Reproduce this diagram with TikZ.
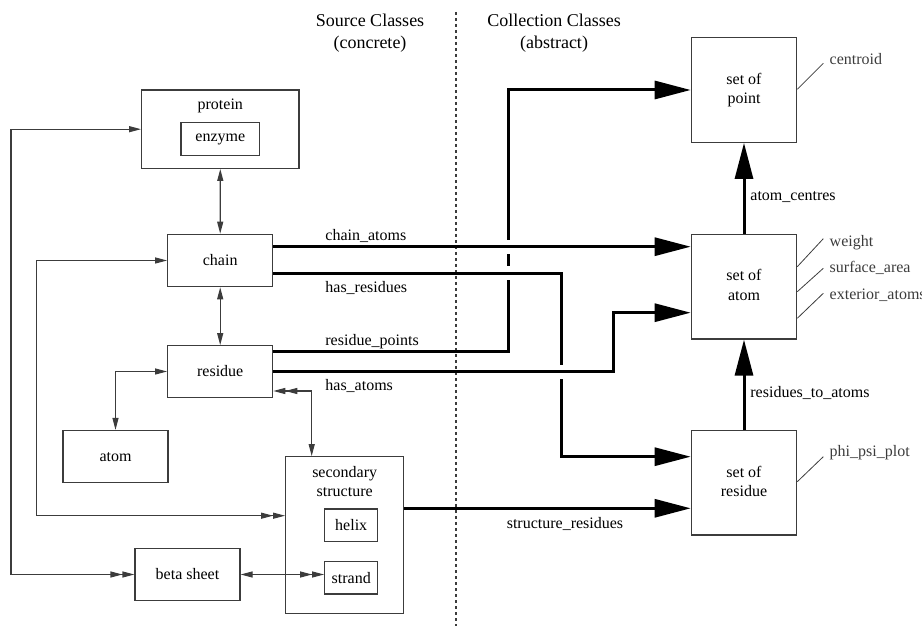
\documentclass[tikz,border=0pt]{standalone}
\usepackage{fontspec}
\setmainfont{Liberation Serif}
\usetikzlibrary{arrows.meta}
\definecolor{linegray}{HTML}{3C3C3C}
\newcommand{\wgap}[2]{\fill[white] (#1-5,#2-7) rectangle (#1+5,#2+7);}
\newcommand{\twoline}[2]{\begin{tabular}{@{}c@{}}#1\\#2\end{tabular}}

\begin{document}
\begin{tikzpicture}[x=0.5pt, y=-0.5pt,
  cls/.style={draw=linegray, line width=0.6pt, inner sep=0pt, font=\fontsize{8}{9.6}\selectfont},
  srcbox/.style={cls, minimum width=52.5pt, minimum height=26.2pt},
  setbox/.style={cls, minimum width=52.7pt, minimum height=52.3pt},
  lbl/.style={inner sep=0pt, font=\fontsize{8}{9.6}\selectfont},
  head/.style={inner sep=0pt, align=center, font=\fontsize{9}{11}\selectfont},
  link/.style={linegray, line width=0.6pt, >={Triangle[length=6pt,width=3pt]}},
  fat/.style={line width=1.5pt, -{Triangle[length=18pt,width=9pt]}},
  tag/.style={linegray, line width=0.4pt}]
  \useasboundingbox (0,0) rectangle (922,630);

  % headings and divider
  \node[head] (srchead) at (370,33) {Source Classes\\(concrete)};
  \node[head] (colhead) at (554,33) {Collection Classes\\(abstract)};
  \draw[linegray, line width=0.6pt, dash pattern=on 1.5pt off 1.5pt] (456,12) -- (456,626);

  % source classes
  \node[cls, minimum width=78.65pt, minimum height=39.15pt] (protein) at (220.3,129.2) {};
  \node[lbl] (proteinlbl) at (220.3,106) {protein};
  \node[cls, minimum width=39.35pt, minimum height=16.5pt] (enzyme) at (220.3,139.2) {enzyme};
  \node[srcbox] (chain) at (220.2,260.5) {chain};
  \node[srcbox, minimum height=25.8pt] (residue) at (220.2,371.5) {residue};
  \node[srcbox] (atom) at (115.5,456.7) {atom};
  \node[cls, minimum width=59pt, minimum height=78.3pt] (secstruct) at (344.7,535) {};
  \node[lbl] (secstructlbl) at (344.7,483) {\twoline{secondary}{structure}};
  \node[cls, minimum width=26.5pt, minimum height=16.35pt] (helix) at (351.2,525.3) {helix};
  \node[cls, minimum width=26.5pt, minimum height=16.15pt] (strand) at (351.2,577.8) {strand};
  \node[srcbox] (betasheet) at (187.5,574.5) {beta sheet};

  % collection classes
  \node[setbox] (setpoint) at (744,90) {\twoline{set of}{point}};
  \node[setbox] (setatom) at (744,286.7) {\twoline{set of}{atom}};
  \node[setbox] (setresidue) at (744,482.8) {\twoline{set of}{residue}};

  % thin links
  \draw[link, <->] (protein.south) -- (chain.north);
  \draw[link, <->] (chain.south) -- (residue.north);
  \draw[link, <->] (residue.west) -| (atom.north);
  \draw[link, <<->] (residue.east |- 0,391) -| (311.7,0 |- secstruct.north);
  \draw[link, <->>] (chain.west) -| (36.7,515.7) -- (secstruct.west |- 0,515.7);
  \draw[link, <->>] (protein.west) -| (11,574.5) -- (betasheet.west);
  \draw[link, <->>] (betasheet.east) -- (strand.west |- betasheet.east);

  % thick links
  \draw[fat] (residue.east |- 0,351.7) -| (508.3,90) -- (setpoint.west);
  \wgap{508.3}{246.7}
  \wgap{508.3}{273.3}
  \draw[fat] (chain.east |- 0,273.3) -| (561,456.7) -- (setresidue.west |- 0,456.7);
  \draw[fat] (chain.east |- 0,246.7) -- (setatom.west |- 0,246.7);
  \wgap{561}{371.7}
  \draw[fat] (residue.east |- 0,371.7) -| (613.3,312.7) -- (setatom.west |- 0,312.7);
  \draw[fat] (secstruct.east |- 0,508.3) -- (setresidue.west |- 0,508.3);
  \draw[fat] (setatom.north) -- (setpoint.south);
  \draw[fat] (setresidue.north) -- (setatom.south);

  % link labels
  \node[lbl, anchor=west] (chainatomslbl) at (325,236) {chain\_atoms};
  \node[lbl, anchor=west] (hasreslbl) at (325,288.3) {has\_residues};
  \node[lbl, anchor=west] (respointslbl) at (325,341.7) {residue\_points};
  \node[lbl, anchor=west] (hasatomslbl) at (325,386) {has\_atoms};
  \node[lbl] (structreslbl) at (565,524.3) {structure\_residues};
  \node[lbl, anchor=west] (atomcentreslbl) at (750,196.7) {atom\_centres};
  \node[lbl, anchor=west] (restoatomslbl) at (750,393.3) {residues\_to\_atoms};

  % attributes
  \draw[tag] (setpoint.east |- 0,89.3) -- ++(26,-26)
    node[lbl, anchor=west, xshift=3pt, yshift=2pt] (centroid) {centroid};
  \draw[tag] (setatom.east |- 0,266.7) -- ++(26,-28)
    node[lbl, anchor=west, xshift=3pt, yshift=-2pt] (weight) {weight};
  \draw[tag] (setatom.east |- 0,291.7) -- ++(26,-23.4)
    node[lbl, anchor=west, xshift=3pt] (surface) {surface\_area};
  \draw[tag] (setatom.east |- 0,318.3) -- ++(26,-25)
    node[lbl, anchor=west, xshift=3pt, yshift=-1pt] (exterior) {exterior\_atoms};
  \draw[tag] (setresidue.east |- 0,481.7) -- ++(26,-25)
    node[lbl, anchor=west, xshift=3pt, yshift=2pt] (phipsi) {phi\_psi\_plot};
\end{tikzpicture}
\end{document}
